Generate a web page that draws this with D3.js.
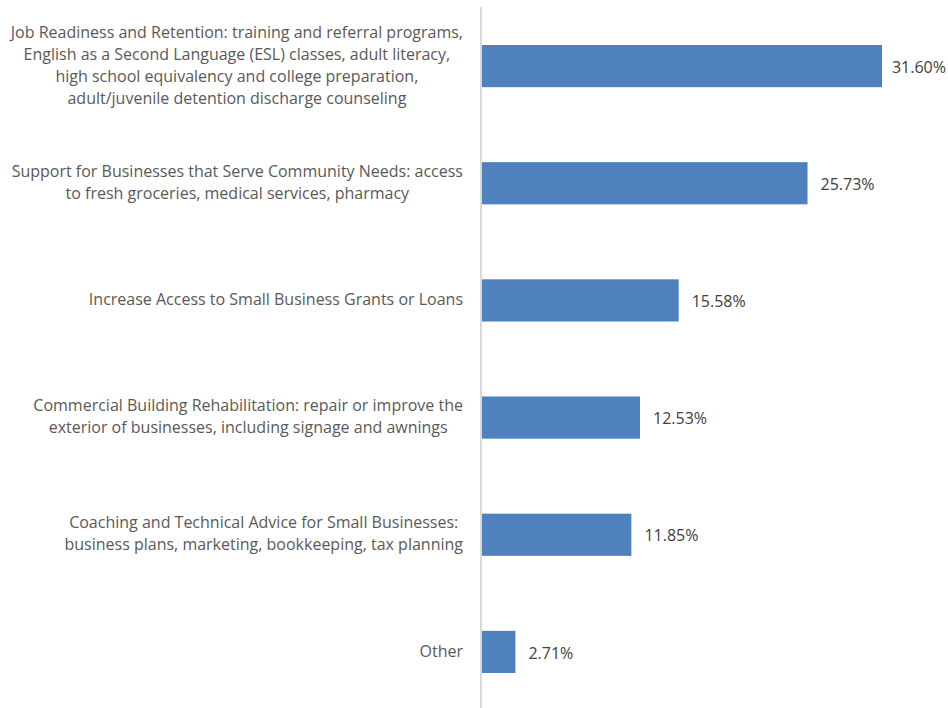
<!DOCTYPE html>
<html>
<head>
<meta charset="UTF-8">
<title>Priorities</title>
<script src="https://cdn.jsdelivr.net/npm/d3@7"></script>
<style>
body { margin: 0; background: #fff; }
.lbl text { font: 16px "Open Sans"; fill: #595959; }
.val { font: 16px "Open Sans"; fill: #404040; }
</style>
</head>
<body>
<svg id="chart" width="948" height="708"></svg>
<script>
// data
var categories = [
  ["Job Readiness and Retention: training and referral programs,",
   "English as a Second Language (ESL) classes, adult literacy,",
   "high school equivalency and college preparation,",
   "adult/juvenile detention discharge counseling"],
  ["Support for Businesses that Serve Community Needs: access",
   "to fresh groceries, medical services, pharmacy"],
  ["Increase Access to Small Business Grants or Loans"],
  ["Commercial Building Rehabilitation: repair or improve the",
   "exterior of businesses, including signage and awnings"],
  ["Coaching and Technical Advice for Small Businesses:",
   "business plans, marketing, bookkeeping, tax planning"],
  ["Other"]
];
var values = [0.3160, 0.2573, 0.1558, 0.1253, 0.1185, 0.0271];

var svg = d3.select("#chart");
var fmt = d3.format(".2%");
var idx = d3.range(values.length);

var x = d3.scaleLinear().domain([0, 0.316]).range([481, 882]);
var y = d3.scaleBand().domain(idx).range([7.5, 710.5])
    .paddingInner(0.64).paddingOuter(0.32);

svg.append("line")
    .attr("x1", 481).attr("x2", 481)
    .attr("y1", 7).attr("y2", 708)
    .attr("stroke", "#d9d9d9").attr("stroke-width", 2);

svg.selectAll(".bar").data(idx).enter().append("rect")
    .attr("class", "bar")
    .attr("x", x(0) + 1)
    .attr("y", function(i) { return y(i); })
    .attr("width", function(i) { return x(values[i]) - x(0) - 1; })
    .attr("height", y.bandwidth())
    .attr("fill", "#4f81bd");

// value labels, pushed back inside the frame when too wide
svg.selectAll(".val").data(idx).enter().append("text")
    .attr("class", "val")
    .attr("y", function(i) { return y(i) + y.bandwidth() / 2 + 1; })
    .attr("dy", "0.35em")
    .text(function(i) { return fmt(values[i]); })
    .attr("x", function(i) {
      var w = this.getComputedTextLength();
      return Math.min(x(values[i]) + 13, 946 - w);
    });

// labels: lines centred on each other, block right-aligned at 463
var lh = 22;
var lbl = svg.selectAll(".lbl").data(idx).enter().append("g").attr("class", "lbl");
lbl.each(function(i) {
  var g = d3.select(this);
  var lines = categories[i];
  var cy = y(i) + y.bandwidth() / 2 - 1;
  var t = g.selectAll("text").data(lines).enter().append("text")
      .attr("text-anchor", "middle")
      .attr("y", function(d, k) { return cy + (k - (lines.length - 1) / 2) * lh; })
      .attr("dy", "0.35em")
      .text(function(d) { return d; });
  var w = d3.max(t.nodes(), function(n) { return n.getComputedTextLength(); });
  t.attr("x", 463 - w / 2);
});
</script>
</body>
</html>
